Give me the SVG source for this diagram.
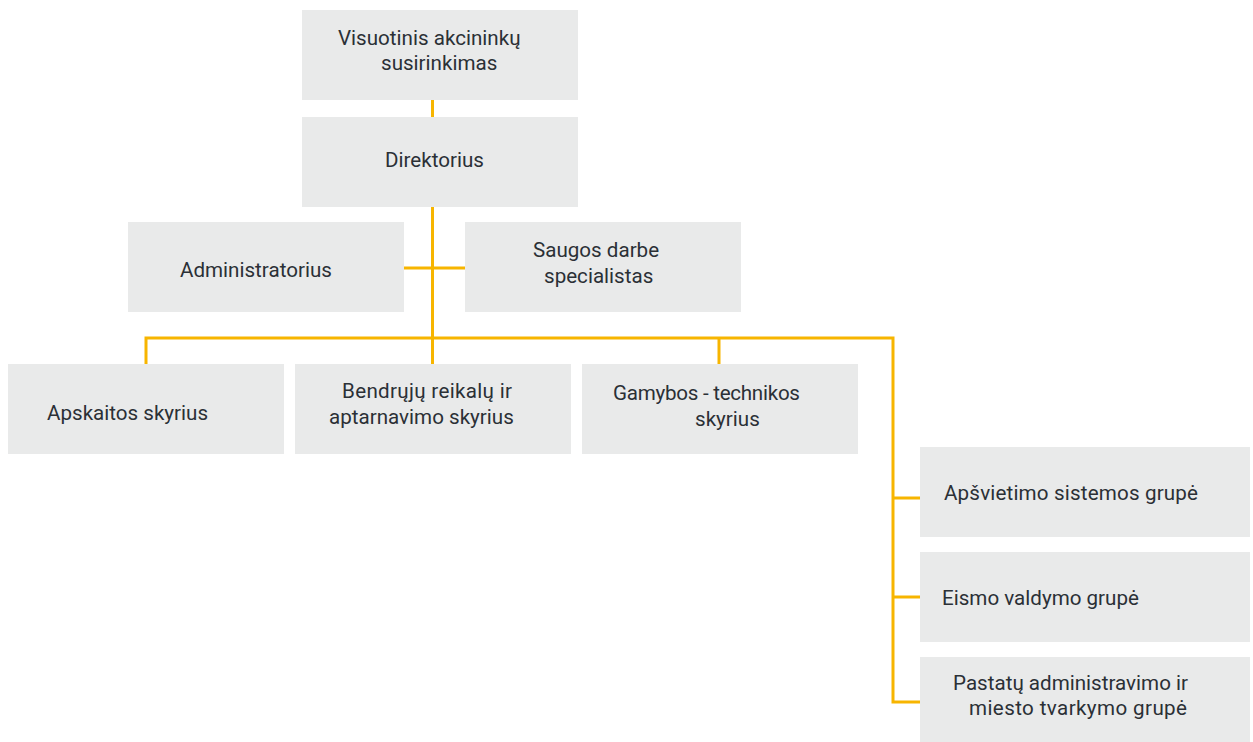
<svg xmlns="http://www.w3.org/2000/svg" width="1253" height="742" viewBox="0 0 1253 742">
<style>
.box{fill:#e9eaea}
.t{font-family:Roboto,"Liberation Sans",sans-serif;font-size:20.6px;font-weight:400;fill:#2b3036}
.c{stroke:#f7b500;stroke-width:3;fill:none}
</style>
<rect width="1253" height="742" fill="#ffffff"/>
<g id="connectors">
<line class="c" x1="432.5" y1="100" x2="432.5" y2="117"/>
<line class="c" x1="432.5" y1="207" x2="432.5" y2="364"/>
<line class="c" x1="404" y1="268" x2="465" y2="268"/>
<polyline class="c" points="146,364 146,338 893,338 893,702 920,702"/>
<line class="c" x1="719" y1="338" x2="719" y2="364"/>
<line class="c" x1="893" y1="498" x2="920" y2="498"/>
<line class="c" x1="893" y1="597" x2="920" y2="597"/>
</g>
<g id="n1"><rect class="box" x="302" y="10" width="276" height="90"/>
<text class="t" x="338" y="45">Visuotinis akcininkų</text><text class="t" x="381" y="70">susirinkimas</text></g>
<g id="n2"><rect class="box" x="302" y="117" width="276" height="90"/>
<text class="t" x="385" y="167">Direktorius</text></g>
<g id="n3"><rect class="box" x="128" y="222" width="276" height="90"/>
<text class="t" x="180" y="277">Administratorius</text></g>
<g id="n4"><rect class="box" x="465" y="222" width="276" height="90"/>
<text class="t" x="533" y="257">Saugos darbe</text><text class="t" x="544" y="283">specialistas</text></g>
<g id="n5"><rect class="box" x="8" y="364" width="276" height="90"/>
<text class="t" x="47" y="420">Apskaitos skyrius</text></g>
<g id="n6"><rect class="box" x="295" y="364" width="276" height="90"/>
<text class="t" x="342" y="398" textLength="170">Bendrųjų reikalų ir</text><text class="t" x="329" y="424">aptarnavimo skyrius</text></g>
<g id="n7"><rect class="box" x="582" y="364" width="276" height="90"/>
<text class="t" x="613" y="400" textLength="187">Gamybos - technikos</text><text class="t" x="695" y="426">skyrius</text></g>
<g id="n8"><rect class="box" x="920" y="447" width="330" height="90"/>
<text class="t" x="944" y="500" textLength="254">Apšvietimo sistemos grupė</text></g>
<g id="n9"><rect class="box" x="920" y="552" width="330" height="90"/>
<text class="t" x="942" y="605">Eismo valdymo grupė</text></g>
<g id="n10"><rect class="box" x="920" y="657" width="330" height="90"/>
<text class="t" x="953" y="690">Pastatų administravimo ir</text><text class="t" x="969" y="715" textLength="218">miesto tvarkymo grupė</text></g>
</svg>
